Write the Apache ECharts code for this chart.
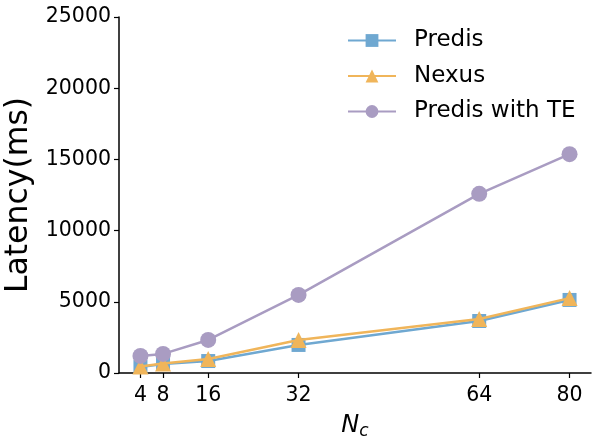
<!DOCTYPE html>
<html>
<head>
<meta charset="utf-8">
<script src="https://cdn.jsdelivr.net/npm/echarts@6/dist/echarts.min.js"></script>
<style>
  html, body { margin: 0; padding: 0; background: #fff; }
  #main { width: 592px; height: 441px; }
</style>
</head>
<body>
<div id="main"></div>
<script>
// 客户端数量 N_c
const nc = [4, 8, 16, 32, 64, 80];
// latency in ms
const predis = [420, 630, 840, 1970, 3650, 5130];
const nexus = [450, 660, 980, 2320, 3790, 5260];
const predisTE = [1200, 1340, 2320, 5480, 12580, 15370];
const yTicks = [0, 5000, 10000, 15000, 20000, 25000];

const font = 'DejaVu Sans';

function pairs(xs, ys) {
    let out = [];
    for (let i = 0; i < xs.length; i++) out.push([xs[i], ys[i]]);
    return out;
}

let myChart = echarts.init(document.getElementById('main'));

let option = {
    animation: false,
    backgroundColor: '#fff',
    textStyle: { fontFamily: font },
    grid: { left: 119, right: 1, top: 17, bottom: 68, containLabel: false, outerBoundsMode: 'none' },
    legend: {
        top: 29,
        left: 347,
        padding: 0,
        orient: 'vertical',
        itemGap: 12.5,
        itemWidth: 48,
        itemHeight: 16,
        textStyle: { fontFamily: font, fontSize: 23, color: '#000', padding: [0, 0, 0, 13] },
        data: ['Predis', 'Nexus', 'Predis with TE']
    },
    xAxis: {
        type: 'value',
        min: 0.2,
        max: 83.8,
        name: '{i|N}{s|c}',
        nameLocation: 'middle',
        nameGap: 38,
        nameTextStyle: {
            rich: {
                i: { fontFamily: font, fontStyle: 'italic', fontSize: 24, color: '#000' },
                s: { fontFamily: font, fontStyle: 'italic', fontSize: 17, color: '#000', verticalAlign: 'bottom', padding: [12, 0, 0, 0] }
            }
        },
        splitLine: { show: false },
        axisLine: { lineStyle: { color: '#000', width: 1.5 } },
        axisTick: { show: true, length: 5, lineStyle: { color: '#000', width: 1.2 }, customValues: nc },
        axisLabel: { fontFamily: font, fontSize: 20.5, color: '#000', margin: 12, customValues: nc }
    },
    yAxis: {
        type: 'value',
        min: 0,
        max: 25000,
        interval: 5000,
        name: 'Latency(ms)',
        nameLocation: 'middle',
        nameGap: 80,
        nameTextStyle: { fontFamily: font, fontSize: 31.5, color: '#000' },
        splitLine: { show: false },
        axisLine: { show: true, lineStyle: { color: '#000', width: 1.5 } },
        axisTick: { show: true, length: 5, lineStyle: { color: '#000', width: 1.2 } },
        axisLabel: {
            fontFamily: font, fontSize: 20.5, color: '#000', margin: 8, customValues: yTicks,
            formatter: function (v) { return String(v); }
        }
    },
    series: [
        {
            name: 'Predis',
            type: 'line',
            data: pairs(nc, predis),
            symbol: 'rect',
            symbolSize: 14,
            color: '#6fa8d1',
            lineStyle: { width: 2.5, color: '#6fa8d1' },
            itemStyle: { color: '#6fa8d1' },
            z: 2
        },
        {
            name: 'Nexus',
            type: 'line',
            data: pairs(nc, nexus),
            symbol: 'triangle',
            symbolSize: 16,
            color: '#f0b55a',
            lineStyle: { width: 2.5, color: '#f0b55a' },
            itemStyle: { color: '#f0b55a' },
            z: 3
        },
        {
            name: 'Predis with TE',
            type: 'line',
            data: pairs(nc, predisTE),
            symbol: 'circle',
            symbolSize: 16,
            color: '#a99cc2',
            lineStyle: { width: 2.5, color: '#a99cc2' },
            itemStyle: { color: '#a99cc2' },
            z: 4
        }
    ]
};

myChart.setOption(option);
</script>
</body>
</html>
